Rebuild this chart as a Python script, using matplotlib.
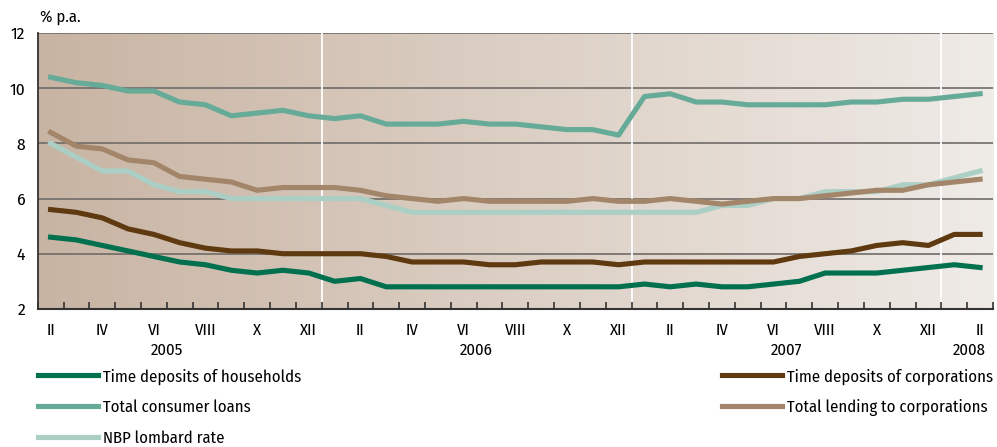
import numpy as np
import matplotlib
matplotlib.use('Agg')
import matplotlib.pyplot as plt
from matplotlib.colors import LinearSegmentedColormap

plt.rcParams['font.family'] = ['Fira Sans Condensed', 'DejaVu Sans']

# monthly data, II 2005 - II 2008
months = ['II', 'III', 'IV', 'V', 'VI', 'VII', 'VIII', 'IX', 'X', 'XI', 'XII', 'I'] * 3 + ['II']
month_labels = ['II', 'IV', 'VI', 'VIII', 'X', 'XII'] * 3 + ['II']
years = ['2005', '2006', '2007', '2008']

households = [4.6, 4.5, 4.3, 4.1, 3.9, 3.7, 3.6, 3.4, 3.3, 3.4, 3.3, 3.0,
              3.1, 2.8, 2.8, 2.8, 2.8, 2.8, 2.8, 2.8, 2.8, 2.8, 2.8, 2.9,
              2.8, 2.9, 2.8, 2.8, 2.9, 3.0, 3.3, 3.3, 3.3, 3.4, 3.5, 3.6, 3.5]
consumer = [10.4, 10.2, 10.1, 9.9, 9.9, 9.5, 9.4, 9.0, 9.1, 9.2, 9.0, 8.9,
            9.0, 8.7, 8.7, 8.7, 8.8, 8.7, 8.7, 8.6, 8.5, 8.5, 8.3, 9.7,
            9.8, 9.5, 9.5, 9.4, 9.4, 9.4, 9.4, 9.5, 9.5, 9.6, 9.6, 9.7, 9.8]
lombard = [8.0, 7.5, 7.0, 7.0, 6.5, 6.25, 6.25, 6.0, 6.0, 6.0, 6.0, 6.0,
           6.0, 5.75, 5.5, 5.5, 5.5, 5.5, 5.5, 5.5, 5.5, 5.5, 5.5, 5.5,
           5.5, 5.5, 5.75, 5.75, 6.0, 6.0, 6.25, 6.25, 6.25, 6.5, 6.5, 6.75, 7.0]
corp_deposits = [5.6, 5.5, 5.3, 4.9, 4.7, 4.4, 4.2, 4.1, 4.1, 4.0, 4.0, 4.0,
                 4.0, 3.9, 3.7, 3.7, 3.7, 3.6, 3.6, 3.7, 3.7, 3.7, 3.6, 3.7,
                 3.7, 3.7, 3.7, 3.7, 3.7, 3.9, 4.0, 4.1, 4.3, 4.4, 4.3, 4.7, 4.7]
corp_lending = [8.4, 7.9, 7.8, 7.4, 7.3, 6.8, 6.7, 6.6, 6.3, 6.4, 6.4, 6.4,
                6.3, 6.1, 6.0, 5.9, 6.0, 5.9, 5.9, 5.9, 5.9, 6.0, 5.9, 5.9,
                6.0, 5.9, 5.8, 5.9, 6.0, 6.0, 6.1, 6.2, 6.3, 6.3, 6.5, 6.6, 6.7]

x = np.arange(len(months))
fs = 12

fig = plt.figure(figsize=(9.97, 4.47), dpi=100)
ax = fig.add_axes([0.0378, 0.309, 0.9582, 0.617])

# background gradient
cmap = LinearSegmentedColormap.from_list('bg', ['#c8b4a3', '#dccfc4', '#efebe7'])
grad = np.linspace(0, 1, 256).reshape(1, -1)
ax.imshow(grad, cmap=cmap, aspect='auto', extent=[-0.5, 36.5, 2, 12], zorder=0)

for g in [4, 6, 8, 10, 12]:
    ax.axhline(g, color='#6f6b68', lw=1.2, zorder=1)
for b in [10.5, 22.5, 34.5]:
    ax.axvline(b, color='white', lw=1.3, zorder=1)

lw = 3.7
ax.plot(x, households, color='#00704f', lw=lw, label='Time deposits of households', zorder=3)
ax.plot(x, consumer, color='#66ab98', lw=lw, label='Total consumer loans', zorder=3)
ax.plot(x, lombard, color='#abcfc4', lw=lw, label='NBP lombard rate', zorder=2)
ax.plot(x, corp_deposits, color='#5f3a10', lw=lw, label='Time deposits of corporations', zorder=3)
ax.plot(x, corp_lending, color='#a3866a', lw=lw, label='Total lending to corporations', zorder=3)

ax.set_xlim(-0.5, 36.5)
ax.set_ylim(2, 12)
ax.set_yticks([2, 4, 6, 8, 10, 12])
ax.tick_params(axis='y', length=0, labelsize=fs + 0.5, pad=9)
ax.set_xticks(np.arange(0, 37, 2))
ax.set_xticklabels(month_labels)
ax.set_xticks(np.arange(-0.5, 37, 1), minor=True)
ax.tick_params(axis='x', which='major', length=0, labelsize=fs, pad=9.5)
ax.tick_params(axis='x', which='minor', direction='in', length=5, width=1.2, color='#333333')

for s in ['top', 'right']:
    ax.spines[s].set_visible(False)
ax.spines['left'].set_color('#333333')
ax.spines['bottom'].set_color('#333333')
ax.spines['left'].set_linewidth(1.3)
ax.spines['bottom'].set_linewidth(1.5)

for pos, yr in zip([4.5, 16.5, 28.5, 35.6], years):
    ax.text(pos, -0.12, yr, transform=ax.get_xaxis_transform(), ha='center', va='top', fontsize=fs)

fig.text(0.040, 0.945, '% p.a.', fontsize=fs, ha='left', va='bottom')

h, l = ax.get_legend_handles_labels()
leg_kw = dict(frameon=False, fontsize=fs, handlelength=3.6, handletextpad=0.3,
              labelspacing=0.88, borderaxespad=0, borderpad=0)
fig.legend(h[:3], l[:3], loc='upper left', bbox_to_anchor=(0.0385, 0.176), **leg_kw)
fig.legend(h[3:], l[3:], loc='upper right', bbox_to_anchor=(0.996, 0.176), **leg_kw)

fig.savefig('out.png', dpi=100)
